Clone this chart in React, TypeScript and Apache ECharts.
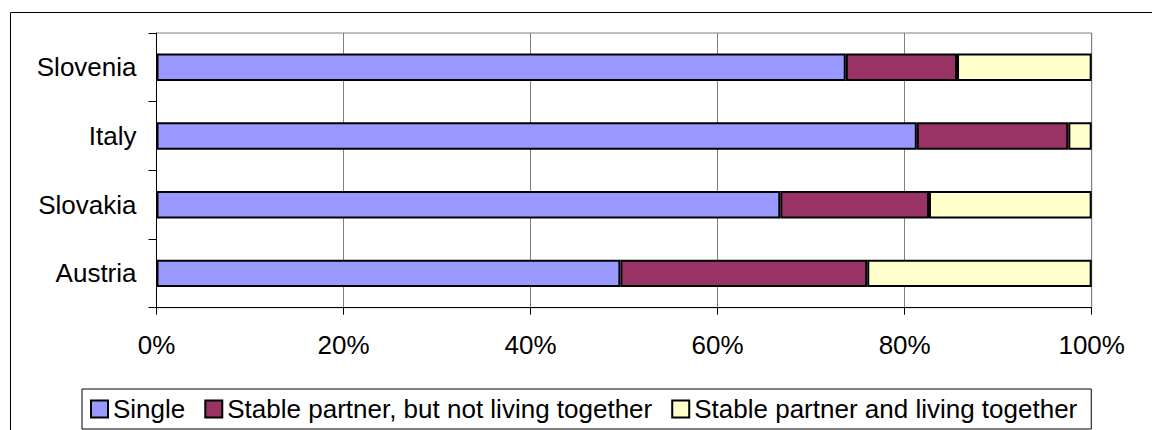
import React, { useEffect, useRef } from "react";
import * as echarts from "echarts";

const categories = ["Austria", "Slovakia", "Italy", "Slovenia"];
const seriesNames = [
  "Single",
  "Stable partner, but not living together",
  "Stable partner and living together",
];
const singleValues = [49.6, 66.7, 81.3, 73.7];
const partnerApartValues = [26.4, 15.9, 16.2, 11.9];
const partnerTogetherValues = [24.0, 17.4, 2.5, 14.4];
const seriesColors = ["#9999FF", "#993366", "#FFFFCC"];
const xTicks = { min: 0, max: 100, interval: 20 };

const FONT = "'Liberation Sans', Arial, Helvetica, sans-serif";

export default function App() {
  const ref = useRef<HTMLDivElement>(null);

  useEffect(() => {
    document.body.style.margin = "0";
    if (!ref.current) return;
    const chart = echarts.init(ref.current, null, { renderer: "svg" });
    const values = [singleValues, partnerApartValues, partnerTogetherValues];
    chart.setOption({
      animation: false,
      backgroundColor: "#ffffff",
      textStyle: { fontFamily: FONT },
      graphic: [
        {
          type: "rect",
          silent: true,
          z: -10,
          shape: { x: 10.5, y: 12.5, width: 1300, height: 600 },
          style: { fill: "none", stroke: "#000", lineWidth: 1 },
        },
      ],
      grid: {
        left: 156.5,
        right: 60.3,
        top: 33,
        bottom: 122.3,
        show: true,
        borderColor: "#808080",
        borderWidth: 1,
        containLabel: false,
      },
      legend: {
        left: 82,
        top: 389,
        orient: "horizontal",
        padding: [7, 14, 7, 8],
        itemWidth: 17,
        itemHeight: 17,
        itemGap: 19,
        borderColor: "#000",
        borderWidth: 1,
        icon: "rect",
        textStyle: { fontSize: 26, color: "#000", fontFamily: FONT },
        data: seriesNames,
      },
      xAxis: {
        type: "value",
        min: xTicks.min,
        max: xTicks.max,
        interval: xTicks.interval,
        axisLine: { show: true, lineStyle: { color: "#000", width: 1 } },
        axisTick: { show: true, length: 7, lineStyle: { color: "#000" } },
        splitLine: { show: true, lineStyle: { color: "#808080", width: 1 } },
        axisLabel: {
          formatter: "{value}%",
          fontSize: 26,
          color: "#000",
          margin: 24,
          fontFamily: FONT,
        },
      },
      yAxis: {
        type: "category",
        data: categories,
        axisLine: { show: true, lineStyle: { color: "#000", width: 1 } },
        axisTick: {
          show: true,
          length: 8,
          alignWithLabel: false,
          lineStyle: { color: "#000" },
        },
        axisLabel: {
          fontSize: 26,
          color: "#000",
          margin: 20,
          fontFamily: FONT,
        },
      },
      series: seriesNames.map((name, i) => ({
        name,
        type: "bar",
        stack: "total",
        barWidth: "40%",
        data: values[i],
        itemStyle: {
          color: seriesColors[i],
          borderColor: "#000",
          borderWidth: 2,
        },
      })),
    });
    return () => chart.dispose();
  }, []);

  return <div ref={ref} style={{ width: 1152, height: 430 }} />;
}
